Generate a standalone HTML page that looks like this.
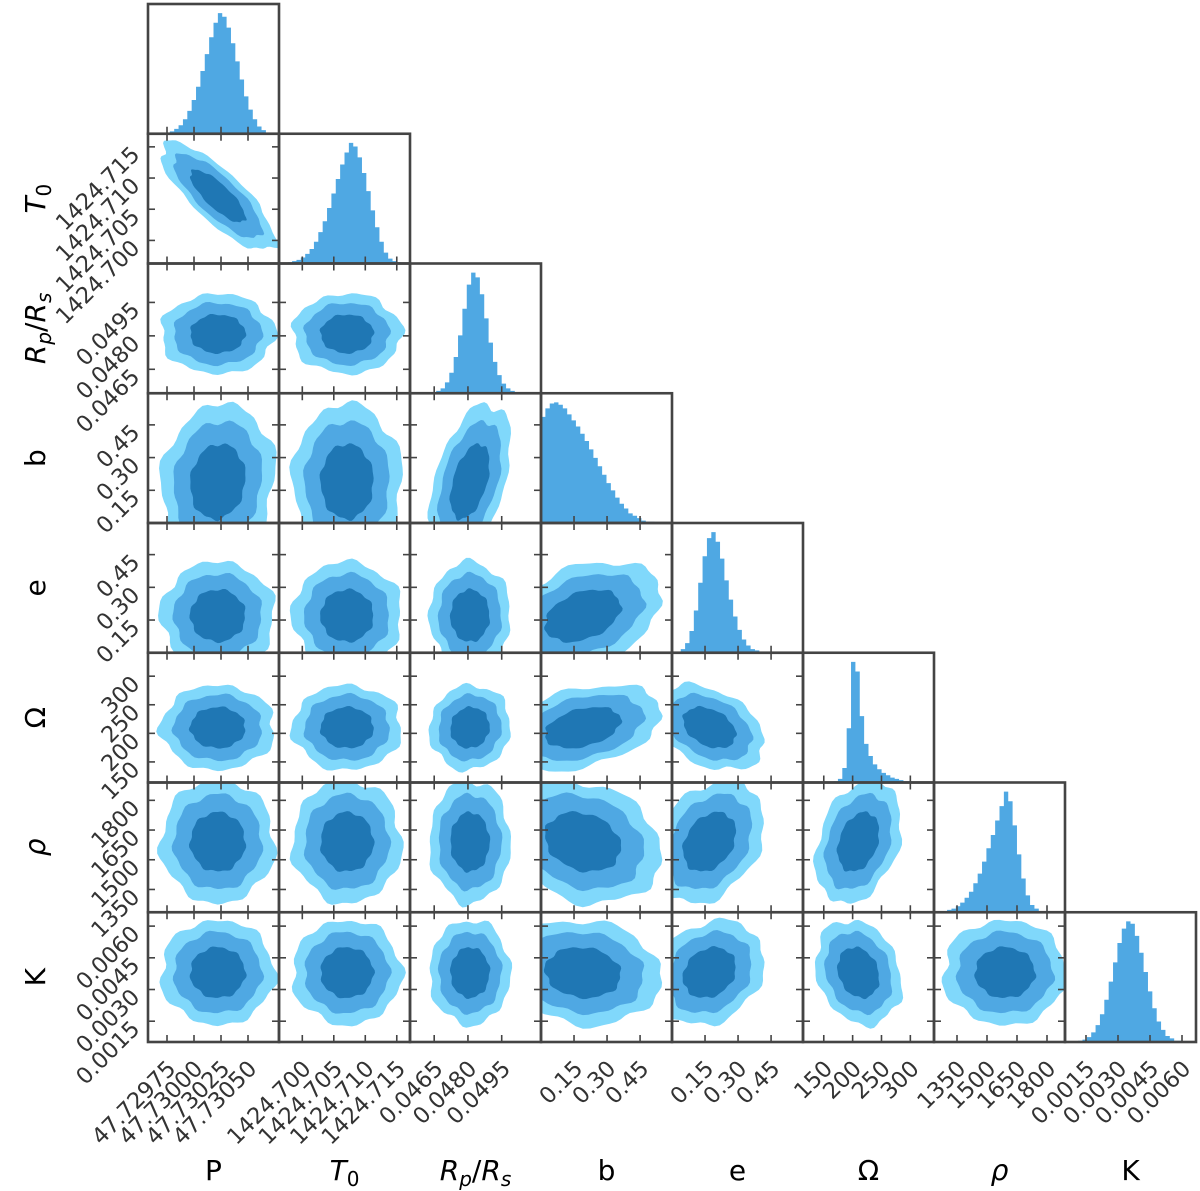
<!DOCTYPE html>
<html><head><meta charset="utf-8"><title>Corner plot</title>
<style>
html,body{margin:0;padding:0;background:#fff;}
svg{display:block;font-family:"DejaVu Sans","Liberation Sans",sans-serif;}
</style></head>
<body>
<svg id="chart" width="1200" height="1191" viewBox="0 0 1200 1191" xmlns="http://www.w3.org/2000/svg">
<defs id="defs"></defs>
<g id="marks"></g>
<g id="frames"></g>
<g id="labels"></g>
</svg>
<script>
// ---- data ----
const paramNames = ['P','T0','Rp/Rs','b','e','Omega','rho','K'];
const rangeMin = [47.729574, 1424.6963, 0.045425, 0.0, 0.0, 114, 1235, 0.000516];
const rangeMax = [47.730787, 1424.7171, 0.051246, 0.595, 0.595, 341, 1890, 0.006656];
const tickValues = [
  [47.72975, 47.73000, 47.73025, 47.73050],
  [1424.700, 1424.705, 1424.710, 1424.715],
  [0.0465, 0.0480, 0.0495],
  [0.15, 0.30, 0.45],
  [0.15, 0.30, 0.45],
  [150, 200, 250, 300],
  [1350, 1500, 1650, 1800],
  [0.0015, 0.0030, 0.0045, 0.0060]
];
const tickLabels = [
  ['47.72975','47.73000','47.73025','47.73050'],
  ['1424.700','1424.705','1424.710','1424.715'],
  ['0.0465','0.0480','0.0495'],
  ['0.15','0.30','0.45'],
  ['0.15','0.30','0.45'],
  ['150','200','250','300'],
  ['1350','1500','1650','1800'],
  ['0.0015','0.0030','0.0045','0.0060']
];
const histP   = [0,0,0,1,1,2,4,7,12,19,28,39,52,66,80,92,100,97,88,75,60,45,31,20,12,6,3,1,1,0];
const histT0  = [0,0,1,2,3,5,8,12,18,26,35,46,58,70,82,92,100,97,88,75,60,44,30,18,9,4,2,1,0,0];
const histRp  = [0,0,0,0,0,1,2,4,9,17,30,48,70,90,100,96,82,62,42,26,15,8,4,2,1,0,0,0,0,0];
const histB   = [88,95,99,100,98,95,90,85,80,74,68,61,54,47,40,33,27,21,16,12,8,6,4,2,1,1,0,0,0,0];
const histE   = [0,1,3,8,18,35,58,80,95,100,92,78,60,44,30,19,11,6,3,2,1,1,0,0,0,0,0,0,0,0];
const histOm  = [0,0,0,0,0,0,0,1,3,12,45,100,92,55,32,22,15,11,8,6,4,3,2,1,1,0,0,0,0,0];
const histRho = [0,1,1,2,3,5,8,12,17,24,32,42,53,64,76,88,100,92,72,48,28,14,6,3,1,0,0,0,0,0];
const histK   = [0,0,0,1,2,4,8,14,23,35,50,66,82,94,100,98,88,74,58,42,28,17,10,5,3,1,1,0,0,0];
const histograms = [histP, histT0, histRp, histB, histE, histOm, histRho, histK];
const means = [47.73022, 1424.7071, 0.04809, 0.19, 0.17, 210, 1590, 0.0038];
const sds   = [0.00017, 0.0028, 0.00058, 0.115, 0.08, 24, 100, 0.0008];
// correlation matrix (value space)
const corr = [
  [1, -0.8, 0.0, 0.1, 0.0, 0.0, 0.0, 0.0],
  [-0.8, 1, 0.0, 0.0, 0.0, 0.0, 0.0, 0.0],
  [0.0, 0.0, 1, 0.45, 0.0, 0.05, 0.0, 0.0],
  [0.1, 0.0, 0.45, 1, 0.35, 0.35, -0.2, -0.1],
  [0.0, 0.0, 0.0, 0.35, 1, -0.35, 0.3, 0.2],
  [0.0, 0.0, 0.05, 0.35, -0.35, 1, 0.3, -0.2],
  [0.0, 0.0, 0.0, -0.2, 0.3, 0.3, 1, 0.0],
  [0.0, 0.0, 0.0, -0.1, 0.2, -0.2, 0.0, 1]
];
const contourLevels = [3.1, 2.4, 1.5];

// ---- layout ----
const N = 8, X0 = 148, CW = 131, Y0 = 4, RH = 129.75;
const colors = ['#80d8fb', '#4fa8e3', '#1f77b4'];
const NS = 'http://www.w3.org/2000/svg';
const marks = document.getElementById('marks');
const frames = document.getElementById('frames');
const labels = document.getElementById('labels');
const defs = document.getElementById('defs');
function mk(tag, attrs, parent){ const e=document.createElementNS(NS,tag); for(const k in attrs) e.setAttribute(k,attrs[k]); parent.appendChild(e); return e; }
function xScale(i, v){ return X0 + i*CW + (v - rangeMin[i])/(rangeMax[i]-rangeMin[i])*CW; }
function yScale(j, v){ return Y0 + j*RH + (rangeMax[j] - v)/(rangeMax[j]-rangeMin[j])*RH; }

for (let j=0;j<N;j++){
  for (let i=0;i<=j;i++){
    const x0 = X0+i*CW, y0 = Y0+j*RH;
    const g = mk('g', {}, marks);
    
    
    if (i===j){
      const h = histograms[i], nb = h.length;
      const mx = Math.max(...h);
      const bw = (rangeMax[i]-rangeMin[i])/nb;
      let d = 'M'+xScale(i,rangeMin[i])+','+(y0+RH);
      for (let k=0;k<nb;k++){
        const xa = xScale(i, rangeMin[i]+k*bw), xb = xScale(i, rangeMin[i]+(k+1)*bw);
        const yy = y0 + RH - h[k]/mx*RH*0.93;
        d += ' L'+xa+','+yy+' L'+xb+','+yy;
      }
      d += ' L'+xScale(i,rangeMax[i])+','+(y0+RH)+' Z';
      const p = mk('path', {d:d, fill:'#4fa8e3'}, g);
      
      
    } else {
      const cid = 'clip-'+i+'-'+j;
      const cp = mk('clipPath', {id:cid}, defs);
      mk('rect', {x:x0, y:y0, width:CW, height:RH}, cp);
      g.setAttribute('clip-path', 'url(#'+cid+')');
      const cx = xScale(i, means[i]), cy = yScale(j, means[j]);
      const sx = sds[i]/(rangeMax[i]-rangeMin[i])*CW;
      const sy = sds[j]/(rangeMax[j]-rangeMin[j])*RH;
      const r = -corr[i][j];
      const q = Math.sqrt(1 - r*r);
      contourLevels.forEach((lv, li) => {
        let d = '';
        const M = 72;
        for (let k=0;k<=M;k++){
          const t = k/M*2*Math.PI;
          const w = lv*(1 + 0.035*Math.sin(7*t + i + j) + 0.025*Math.sin(13*t + 2*i) + (li===0 ? 0.03*Math.sin(5*t + j) : 0));
          const u = Math.cos(t), v = Math.sin(t);
          const px = cx + w*sx*u;
          const py = cy + w*sy*(r*u + q*v);
          d += (k===0?'M':'L') + px.toFixed(2) + ',' + py.toFixed(2);
        }
        const p = mk('path', {d:d+'Z', fill:colors[li]}, g);
        
        
      });
    }
    // ticks
    const tg = mk('g', {stroke:'#444', 'stroke-width':1.6}, frames);
    
    
    const TL = 7;
    tickValues[i].forEach(v => {
      const tx = xScale(i, v);
      mk('line', {x1:tx, y1:y0+RH, x2:tx, y2:y0+RH-TL}, tg);
      if (i!==j) mk('line', {x1:tx, y1:y0, x2:tx, y2:y0+TL}, tg);
    });
    if (i!==j){
      tickValues[j].forEach(v => {
        const ty = yScale(j, v);
        mk('line', {x1:x0, y1:ty, x2:x0+TL, y2:ty}, tg);
        mk('line', {x1:x0+CW, y1:ty, x2:x0+CW-TL, y2:ty}, tg);
      });
    }
    const fr = mk('rect', {x:x0, y:y0, width:CW, height:RH, fill:'none', stroke:'#444', 'stroke-width':2.6}, frames);
    
    
  }
}

// tick labels
const FS = 22.5;
for (let j=1;j<N;j++){
  tickValues[j].forEach((v, k) => {
    const ty = yScale(j, v);
    const t = mk('text', {x:0, y:0, 'font-size':FS, fill:'#333', 'text-anchor':'end', transform:'translate(141,'+(ty+9)+') rotate(-45)'}, labels);
    
    
    t.textContent = tickLabels[j][k];
  });
}
const ybot = Y0 + N*RH;
for (let i=0;i<N;i++){
  tickValues[i].forEach((v, k) => {
    const tx = xScale(i, v);
    const t = mk('text', {x:0, y:0, 'font-size':FS, fill:'#333', 'text-anchor':'end', transform:'translate('+(tx+10)+','+(ybot+28)+') rotate(-45)'}, labels);
    
    
    t.textContent = tickLabels[i][k];
  });
}

// axis titles
const titleHTML = [
  '<tspan>P</tspan>',
  '<tspan font-style="italic">T</tspan><tspan font-size="20" dy="6">0</tspan>',
  '<tspan font-style="italic">R</tspan><tspan font-style="italic" font-size="20" dy="6">p</tspan><tspan dy="-6">/</tspan><tspan font-style="italic">R</tspan><tspan font-style="italic" font-size="20" dy="6">s</tspan>',
  '<tspan>b</tspan>',
  '<tspan>e</tspan>',
  '<tspan>Ω</tspan>',
  '<tspan font-style="italic">ρ</tspan>',
  '<tspan>K</tspan>'
];
for (let i=0;i<N;i++){
  const t = mk('text', {x:X0+i*CW+CW/2, y:1180, 'font-size':28, fill:'#000', 'text-anchor':'middle'}, labels);
  
  
  t.innerHTML = titleHTML[i];
}
for (let j=1;j<N;j++){
  const cy = Y0 + j*RH + RH/2;
  const t = mk('text', {x:0, y:0, 'font-size':28, fill:'#000', 'text-anchor':'middle', transform:'translate(45,'+cy+') rotate(-90)'}, labels);
  
  
  t.innerHTML = titleHTML[j];
}
</script>
</body></html>
